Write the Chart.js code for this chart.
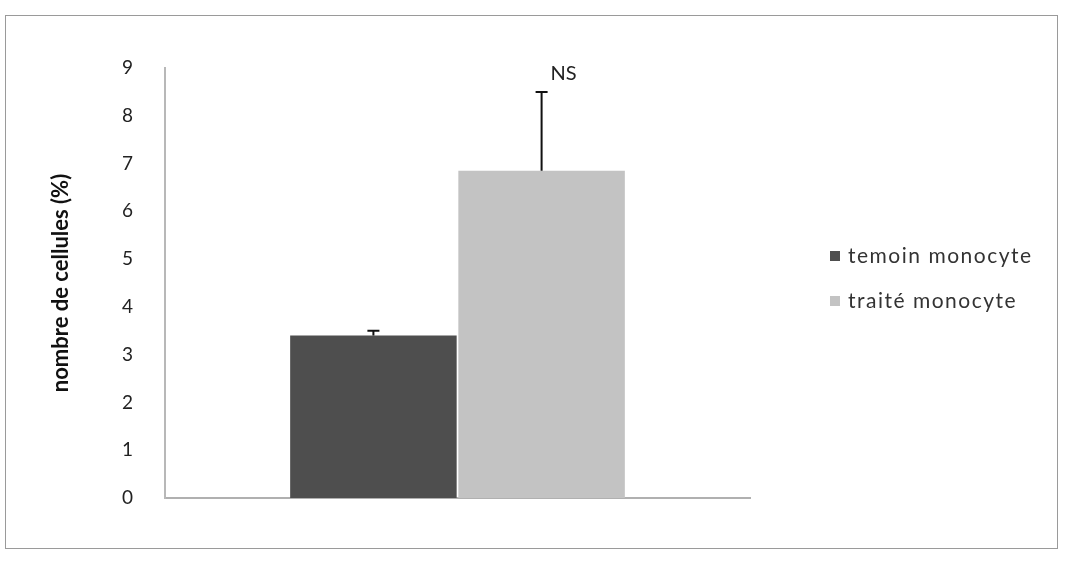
<!DOCTYPE html>
<html>
<head>
<meta charset="utf-8">
<script src="https://cdn.jsdelivr.net/npm/chart.js@4.4.1/dist/chart.umd.min.js"></script>
<style>
  body { margin: 0; background: #fff; }
  #wrap { position: relative; width: 1066px; height: 561px; }
  #frame { position: absolute; left: 5px; top: 15px; width: 1051px; height: 532px; border: 1px solid #9a9a9a; }
  canvas { position: absolute; left: 0; top: 0; }
</style>
</head>
<body>
<div id="wrap">
  <div id="frame"></div>
  <canvas id="chart" width="1066" height="561"></canvas>
</div>
<script>
const ctx = document.getElementById('chart');

// data
const categories = [''];
const seriesNames = ['temoin monocyte', 'traité monocyte'];
const temoinValues = [3.4];
const traiteValues = [6.85];
const errors = [0.1, 1.65];
const yTicks = [0, 1, 2, 3, 4, 5, 6, 7, 8, 9];
const barColors = ['#4e4e4e', '#c3c3c3'];

// error bars + NS label on top of the bars
const errorBars = {
  id: 'errorBars',
  afterDatasetsDraw(chart) {
    const c = chart.ctx;
    const y = chart.scales.y;
    c.save();
    c.strokeStyle = '#111';
    c.lineWidth = 2;
    chart.data.datasets.forEach((ds, i) => {
      const bar = chart.getDatasetMeta(i).data[0];
      const top = y.getPixelForValue(ds.data[0] + errors[i]);
      c.beginPath();
      c.moveTo(bar.x, bar.y);
      c.lineTo(bar.x, top);
      c.moveTo(bar.x - 6, top);
      c.lineTo(bar.x + 6, top);
      c.stroke();
      if (i === 1) {
        c.fillStyle = '#222';
        c.font = '20px Lato, "Open Sans", sans-serif';
        c.textAlign = 'center';
        c.textBaseline = 'bottom';
        c.fillText('NS', bar.x + 22, top - 8);
      }
    });
    c.restore();
  }
};

// legend drawn to the right of the plot
const sideLegend = {
  id: 'sideLegend',
  afterDraw(chart) {
    const c = chart.ctx;
    c.save();
    c.font = '21px Lato, "Open Sans", sans-serif';
    c.letterSpacing = '1.5px';
    c.textBaseline = 'middle';
    chart.data.datasets.forEach((ds, i) => {
      const yy = 256 + i * 45;
      c.fillStyle = ds.backgroundColor;
      c.fillRect(830, yy - 5, 10, 10);
      c.fillStyle = '#333';
      c.fillText(ds.label, 848, yy);
    });
    c.restore();
  }
};

new Chart(ctx, {
  type: 'bar',
  data: {
    labels: categories,
    datasets: [
      { label: seriesNames[0], data: temoinValues, backgroundColor: barColors[0] },
      { label: seriesNames[1], data: traiteValues, backgroundColor: barColors[1] }
    ]
  },
  options: {
    responsive: false,
    animation: false,
    categoryPercentage: 0.575,
    barPercentage: 0.99,
    layout: { padding: { left: 48, right: 316, top: 68, bottom: 55 } },
    plugins: {
      legend: { display: false },
      tooltip: { enabled: false }
    },
    scales: {
      x: {
        grid: { display: false },
        border: { color: '#b0b0b0', width: 2 },
        ticks: { display: false }
      },
      y: {
        min: 0,
        max: 9,
        afterBuildTicks(scale) {
          scale.ticks = yTicks.map(v => ({ value: v }));
        },
        afterFit(scale) { scale.width = 117; },
        grid: { display: false },
        border: { color: '#b8b8b8', width: 2 },
        ticks: {
          color: '#222',
          padding: 24,
          font: { size: 19, family: 'Lato, "Open Sans", sans-serif' }
        },
        title: {
          display: true,
          text: 'nombre de cellules (%)',
          color: '#111',
          font: { size: 22, weight: 'bold', family: 'Lato, "Open Sans", sans-serif' },
          padding: { top: 0, bottom: 0 }
        }
      }
    }
  },
  plugins: [errorBars, sideLegend]
});
</script>
</body>
</html>
